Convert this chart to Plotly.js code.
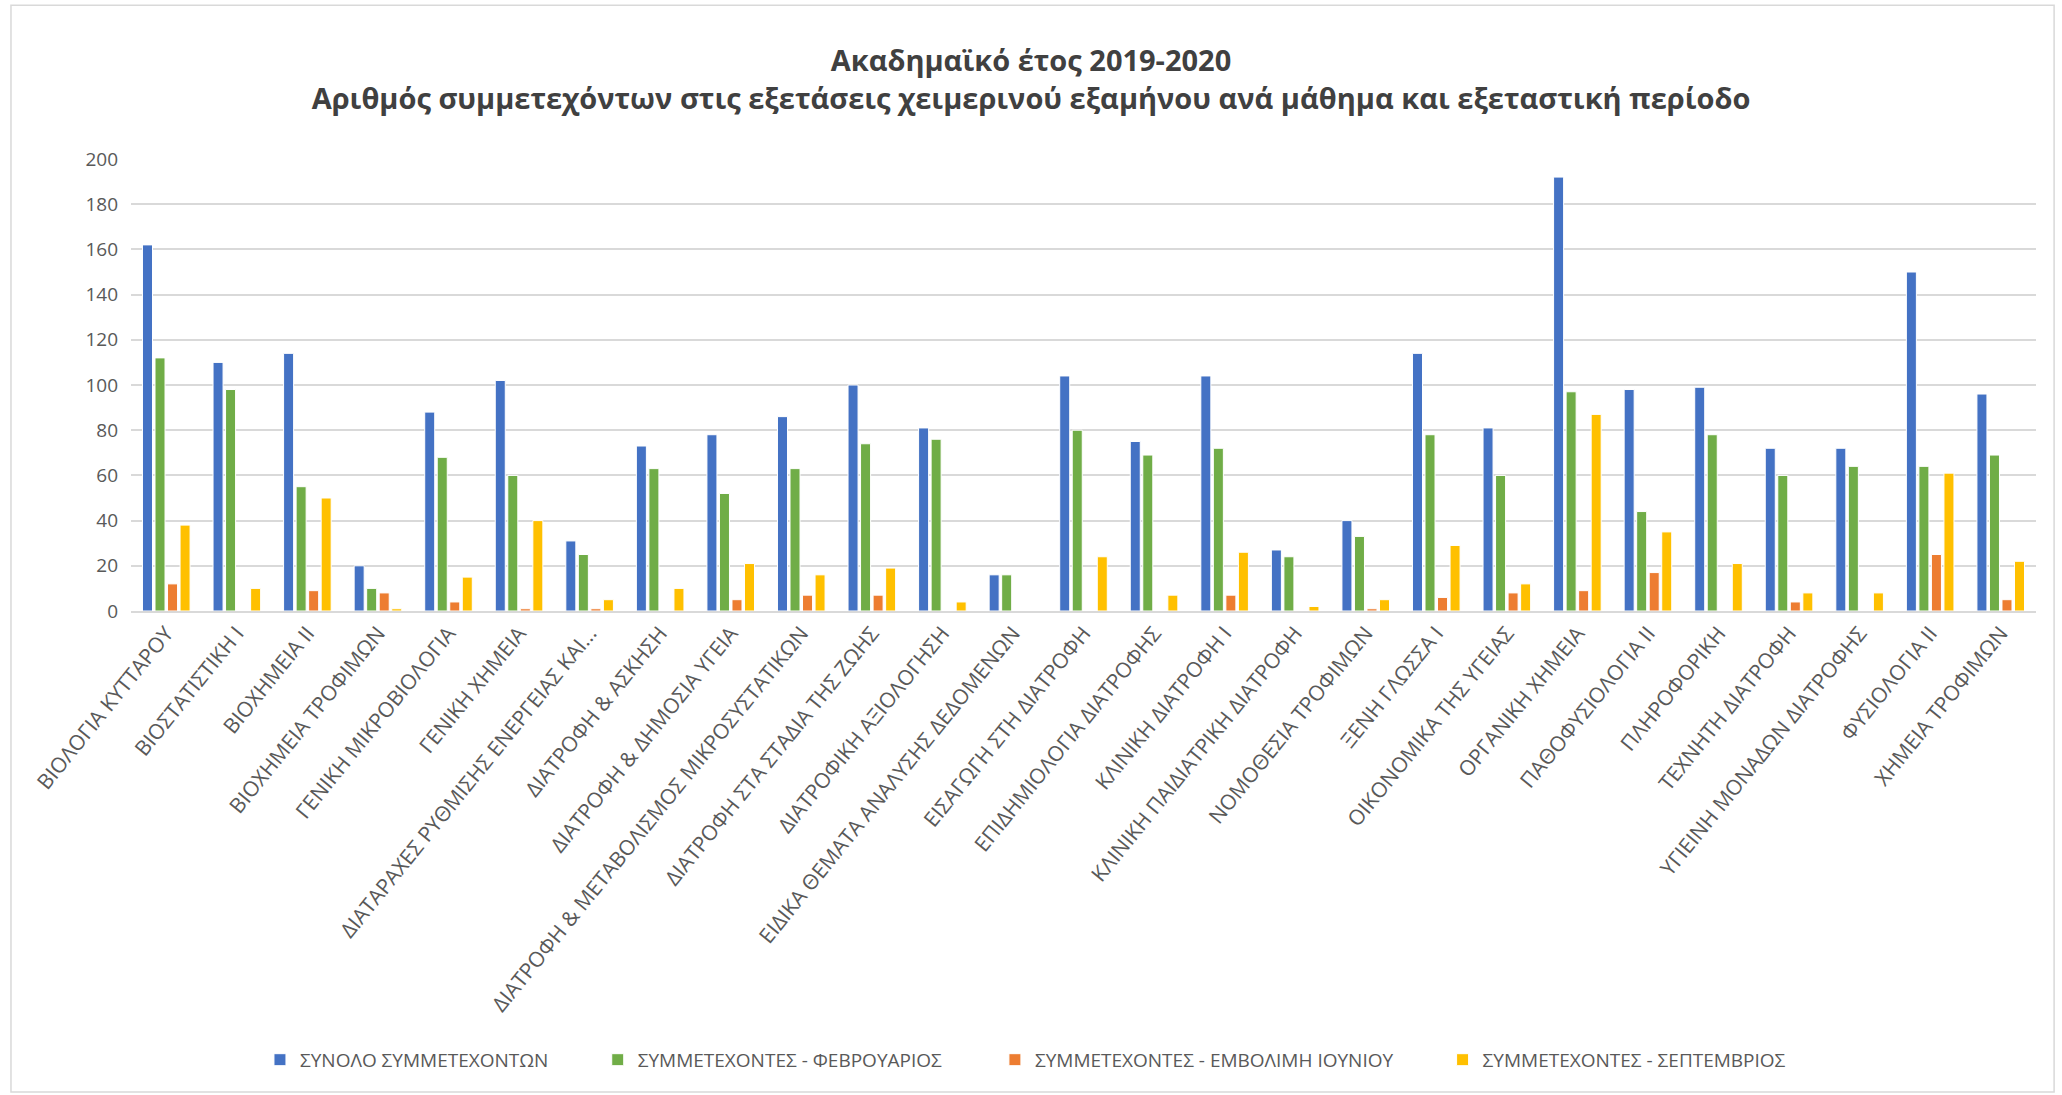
<!DOCTYPE html>
<html>
<head>
<meta charset="utf-8">
<script src="https://cdn.plot.ly/plotly-3.0.1.min.js"></script>
<style>
html,body{margin:0;padding:0;background:#fff;}
#chart{width:2062px;height:1095px;}
</style>
</head>
<body>
<div id="chart"></div>
<script>
const categories = [
  "ΒΙΟΛΟΓΙΑ ΚΥΤΤΑΡΟΥ",
  "ΒΙΟΣΤΑΤΙΣΤΙΚΗ Ι",
  "ΒΙΟΧΗΜΕΙΑ ΙΙ",
  "ΒΙΟΧΗΜΕΙΑ ΤΡΟΦΙΜΩΝ",
  "ΓΕΝΙΚΗ ΜΙΚΡΟΒΙΟΛΟΓΙΑ",
  "ΓΕΝΙΚΗ ΧΗΜΕΙΑ",
  "ΔΙΑΤΑΡΑΧΕΣ ΡΥΘΜΙΣΗΣ ΕΝΕΡΓΕΙΑΣ ΚΑΙ...",
  "ΔΙΑΤΡΟΦΗ & ΑΣΚΗΣΗ",
  "ΔΙΑΤΡΟΦΗ & ΔΗΜΟΣΙΑ ΥΓΕΙΑ",
  "ΔΙΑΤΡΟΦΗ & ΜΕΤΑΒΟΛΙΣΜΟΣ ΜΙΚΡΟΣΥΣΤΑΤΙΚΩΝ",
  "ΔΙΑΤΡΟΦΗ ΣΤΑ ΣΤΑΔΙΑ ΤΗΣ ΖΩΗΣ",
  "ΔΙΑΤΡΟΦΙΚΗ ΑΞΙΟΛΟΓΗΣΗ",
  "ΕΙΔΙΚΑ ΘΕΜΑΤΑ ΑΝΑΛΥΣΗΣ ΔΕΔΟΜΕΝΩΝ",
  "ΕΙΣΑΓΩΓΗ ΣΤΗ ΔΙΑΤΡΟΦΗ",
  "ΕΠΙΔΗΜΙΟΛΟΓΙΑ ΔΙΑΤΡΟΦΗΣ",
  "ΚΛΙΝΙΚΗ ΔΙΑΤΡΟΦΗ Ι",
  "ΚΛΙΝΙΚΗ ΠΑΙΔΙΑΤΡΙΚΗ ΔΙΑΤΡΟΦΗ",
  "ΝΟΜΟΘΕΣΙΑ ΤΡΟΦΙΜΩΝ",
  "ΞΕΝΗ ΓΛΩΣΣΑ Ι",
  "ΟΙΚΟΝΟΜΙΚΑ ΤΗΣ ΥΓΕΙΑΣ",
  "ΟΡΓΑΝΙΚΗ ΧΗΜΕΙΑ",
  "ΠΑΘΟΦΥΣΙΟΛΟΓΙΑ ΙΙ",
  "ΠΛΗΡΟΦΟΡΙΚΗ",
  "ΤΕΧΝΗΤΗ ΔΙΑΤΡΟΦΗ",
  "ΥΓΙΕΙΝΗ ΜΟΝΑΔΩΝ ΔΙΑΤΡΟΦΗΣ",
  "ΦΥΣΙΟΛΟΓΙΑ ΙΙ",
  "ΧΗΜΕΙΑ ΤΡΟΦΙΜΩΝ"
];

const seriesNames = [
  "ΣΥΝΟΛΟ ΣΥΜΜΕΤΕΧΟΝΤΩΝ",
  "ΣΥΜΜΕΤΕΧΟΝΤΕΣ - ΦΕΒΡΟΥΑΡΙΟΣ",
  "ΣΥΜΜΕΤΕΧΟΝΤΕΣ - ΕΜΒΟΛΙΜΗ ΙΟΥΝΙΟΥ",
  "ΣΥΜΜΕΤΕΧΟΝΤΕΣ - ΣΕΠΤΕΜΒΡΙΟΣ"
];

const totalValues     = [162,110,114,20,88,102,31,73,78,86,100,81,16,104,75,104,27,40,114,81,192,98,99,72,72,150,96];
const februaryValues  = [112, 98, 55,10,68, 60,25,63,52,63, 74,76,16, 80,69, 72,24,33, 78,60, 97,44,78,60,64, 64,69];
const juneValues      = [ 12,  0,  9, 8, 4,  1, 1, 0, 5, 7,  7, 0, 0,  0, 0,  7, 0, 1,  6, 8,  9,17, 0, 4, 0, 25, 5];
const septemberValues = [ 38, 10, 50, 1,15, 40, 5,10,21,16, 19, 4, 0, 24, 7, 26, 2, 5, 29,12, 87,35,21, 8, 8, 61,22];

const yTickValues = [0,20,40,60,80,100,120,140,160,180,200];

const colors = ["#4472C4","#70AD47","#ED7D31","#FFC000"];
const allValues = [totalValues, februaryValues, juneValues, septemberValues];
const legendIds = ["legend","legend2","legend3","legend4"];
const legendX = [0.0677, 0.245, 0.4535, 0.6885];

const traces = allValues.map((vals, i) => ({
  type: "bar",
  name: seriesNames[i],
  x: categories,
  y: vals,
  legend: legendIds[i],
  marker: {color: colors[i], line: {color: "#ffffff", width: 1}},
  hoverinfo: "x+y+name"
}));

const fontFam = "Open Sans, Lato, sans-serif";
const legendFont = {family: fontFam, size: 19, color: "#595959"};

const layout = {
  width: 2062,
  height: 1095,
  paper_bgcolor: "#ffffff",
  plot_bgcolor: "#ffffff",
  margin: {l: 131, r: 26, t: 159, b: 484},
  barmode: "group",
  bargap: 0.29,
  bargroupgap: 0.2,
  title: {
    text: "Ακαδημαϊκό έτος 2019-2020<br>Αριθμός συμμετεχόντων στις εξετάσεις χειμερινού εξαμήνου ανά μάθημα και εξεταστική περίοδο",
    font: {family: fontFam, size: 29, color: "#404040", weight: "bold"},
    x: 0.5, xref: "container", xanchor: "center",
    y: 0.935, yref: "container", yanchor: "middle"
  },
  xaxis: {
    type: "category",
    tickangle: -51,
    tickfont: {family: fontFam, size: 21, color: "#595959"},
    showgrid: false,
    showline: true,
    linecolor: "#d9d9d9",
    linewidth: 1.5,
    ticks: "",
    automargin: false
  },
  yaxis: {
    range: [0, 200],
    tickvals: yTickValues,
    tickfont: {family: fontFam, size: 19, color: "#595959"},
    gridcolor: "#d9d9d9",
    gridwidth: 1.5,
    zeroline: false,
    showline: false,
    ticks: "",
    ticklabelstandoff: 12,
    automargin: false
  },
  shapes: [{
    type: "rect", xref: "paper", yref: "paper",
    x0: -0.063, x1: 1.0095, y0: -1.064, y1: 1.34,
    line: {color: "#d9d9d9", width: 1.5},
    fillcolor: "rgba(0,0,0,0)", layer: "below"
  }],
  showlegend: true
};

legendIds.forEach((id, i) => {
  layout[id] = {
    orientation: "h",
    x: legendX[i], xanchor: "left",
    y: -0.993, yanchor: "middle",
    font: legendFont,
    itemwidth: 30,
    bgcolor: "rgba(0,0,0,0)"
  };
});

Plotly.newPlot("chart", traces, layout, {displayModeBar: false, responsive: false});
</script>
</body>
</html>
